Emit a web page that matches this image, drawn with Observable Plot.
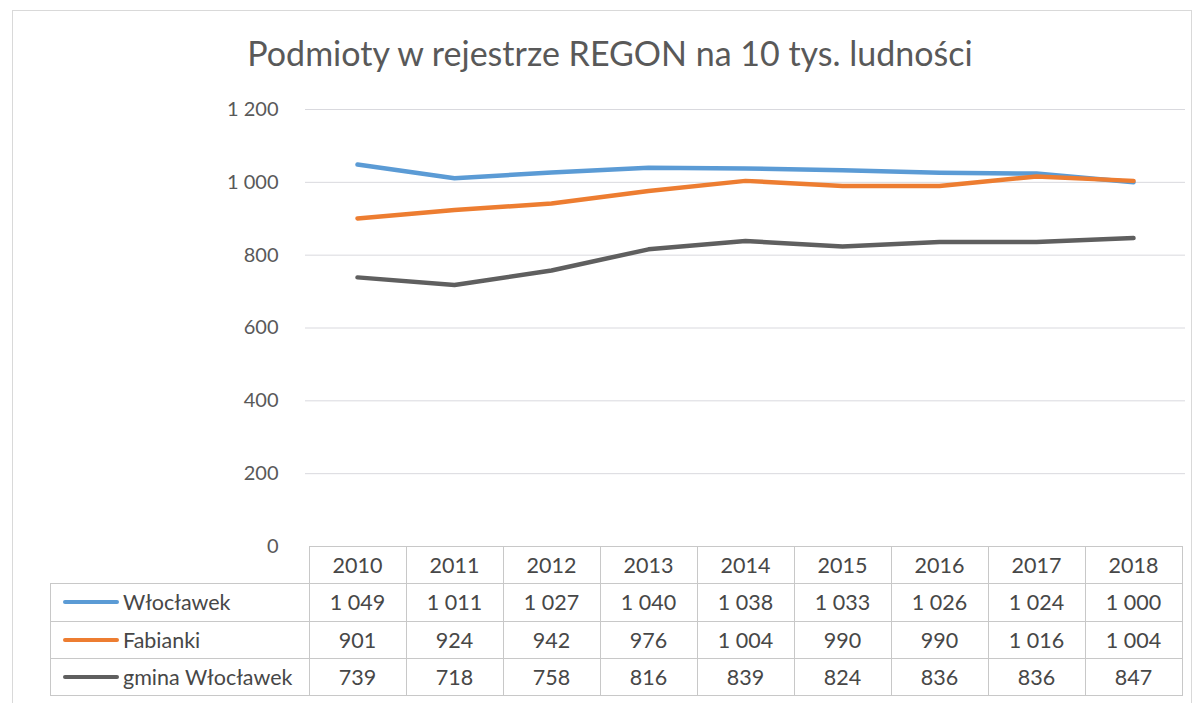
<!DOCTYPE html>
<html>
<head>
<meta charset="utf-8">
<script src="https://cdn.jsdelivr.net/npm/d3@7"></script>
<script src="https://cdn.jsdelivr.net/npm/@observablehq/plot@0.6"></script>
<style>
  html, body { margin: 0; padding: 0; background: #fff; }
  #wrap { position: relative; width: 1201px; height: 703px; overflow: hidden; background: #fff; font-family: Lato, "Open Sans", sans-serif; }
  #frame { position: absolute; left: 12px; top: 10px; width: 1180px; height: 700px; border: 1px solid #d9d9d9; box-sizing: border-box; }
  #title { position: absolute; left: 0; top: 32px; width: 1220px; text-align: center; font-size: 34px; color: #595959; }
  #chart { position: absolute; left: 0; top: 90px; }
  .cell { position: absolute; box-sizing: border-box; border: 1px solid #c8c8c8; display: flex; align-items: center; justify-content: center; font-size: 21.5px; color: #474747; }
  .lab { justify-content: flex-start; }
  .key { display: inline-block; width: 56px; height: 4px; border-radius: 2px; margin: 0 4px 0 12px; }
</style>
</head>
<body>
<div id="wrap">
  <div id="frame"></div>
  <div id="title">Podmioty w rejestrze REGON na 10 tys. ludności</div>
  <div id="chart"></div>
</div>
<script>
const years = ["2010","2011","2012","2013","2014","2015","2016","2017","2018"];
const seriesNames = ["Włocławek","Fabianki","gmina Włocławek"];
const wloclawek = [1049,1011,1027,1040,1038,1033,1026,1024,1000];
const fabianki = [901,924,942,976,1004,990,990,1016,1004];
const gmina = [739,718,758,816,839,824,836,836,847];
const yTicks = [0,200,400,600,800,1000,1200];
const colors = ["#5b9bd5","#ed7d31","#5f5f5f"];

const valuesBySeries = [wloclawek, fabianki, gmina];
const data = [];
seriesNames.forEach((s, i) => years.forEach((y, j) => data.push({series: s, year: y, value: valuesBySeries[i][j]})));

const fmt = d => d3.format(",")(d).replace(/,/g, " ");

const plot = Plot.plot({
  width: 1201,
  height: 613,
  marginTop: 19,
  marginBottom: 157,
  marginLeft: 305,
  marginRight: 16,
  style: {fontFamily: "Lato, 'Open Sans', sans-serif", background: "transparent"},
  x: {type: "point", domain: years, padding: 0.5, axis: null},
  y: {domain: [0, 1200], ticks: yTicks, tickFormat: fmt, label: null},
  color: {domain: seriesNames, range: colors},
  marks: [
    Plot.ruleY(yTicks.filter(d => d > 0), {stroke: "#d9d9de", strokeWidth: 1}),
    Plot.axisY({ticks: yTicks, tickFormat: fmt, tickSize: 0, tickPadding: 27, fontSize: 20, fill: "#595959", label: null}),
    Plot.line(data, {x: "year", y: "value", z: "series", stroke: "series", strokeWidth: 4.5, strokeLinecap: "round", strokeLinejoin: "round"})
  ]
});
document.getElementById("chart").appendChild(plot);

// data table under the plot, aligned on the x scale
const xs = plot.scale("x");
const step = xs.step;
const wrap = document.getElementById("wrap");
const top0 = 90 + 456;
const rowH = 37.3;
const labelLeft = 50;
function cell(left, top, w, h, html, cls) {
  const d = document.createElement("div");
  d.className = "cell" + (cls ? " " + cls : "");
  Object.assign(d.style, {left: left + "px", top: top + "px", width: (w + 1) + "px", height: (h + 1) + "px"});
  d.innerHTML = html;
  wrap.appendChild(d);
}
years.forEach(y => cell(xs.apply(y) - step / 2, top0, step, rowH, y));
seriesNames.forEach((s, i) => {
  const t = top0 + rowH * (i + 1);
  const x0 = xs.apply(years[0]) - step / 2;
  cell(labelLeft, t, x0 - labelLeft, rowH, `<span class="key" style="background:${colors[i]}"></span>${s}`, "lab");
  years.forEach((y, j) => cell(xs.apply(y) - step / 2, t, step, rowH, fmt(valuesBySeries[i][j])));
});
</script>
</body>
</html>
